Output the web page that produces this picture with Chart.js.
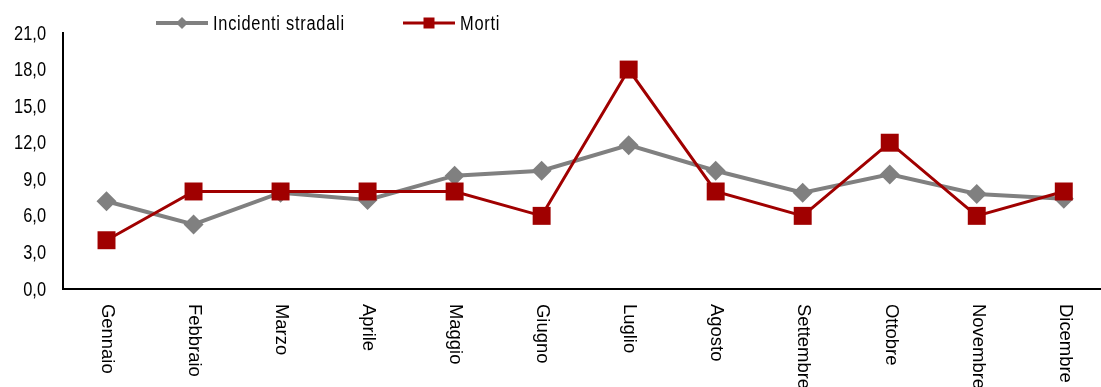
<!DOCTYPE html>
<html>
<head>
<meta charset="utf-8">
<script src="https://cdn.jsdelivr.net/npm/chart.js@4/dist/chart.umd.min.js"></script>
<style>
  html, body { margin: 0; padding: 0; background: #fff; overflow: hidden; }
  canvas { display: block; }
</style>
</head>
<body>
<canvas id="c" width="1120" height="387"></canvas>
<script>
// Monthly shares: road accidents and deaths
const mesi = ['Gennaio', 'Febbraio', 'Marzo', 'Aprile', 'Maggio', 'Giugno',
              'Luglio', 'Agosto', 'Settembre', 'Ottobre', 'Novembre', 'Dicembre'];
const incidenti = [7.2, 5.3, 7.9, 7.3, 9.3, 9.7, 11.8, 9.7, 7.9, 9.4, 7.8, 7.4];
const morti = [4, 8, 8, 8, 8, 6, 18, 8, 6, 12, 6, 8];
const yMin = 0, yMax = 21, yStep = 3;

const FONT = "'Liberation Sans', Arial, sans-serif";
const GRAY = '#808080';
const RED = '#A00000';

// Text drawn with an optional horizontal squeeze, rotated by `angle` around (x, y)
function drawText(ctx, text, x, y, opts) {
  const o = Object.assign({ align: 'left', angle: 0, squeeze: 0.82, size: 20, spacing: 0 }, opts);
  ctx.save();
  ctx.translate(x, y);
  if (o.angle) ctx.rotate(o.angle);
  ctx.scale(o.squeeze, 1);
  ctx.font = o.size + 'px ' + FONT;
  ctx.letterSpacing = o.spacing + 'px';
  ctx.fillStyle = '#000';
  ctx.textAlign = o.align;
  ctx.textBaseline = 'middle';
  ctx.fillText(text, 0, 0);
  ctx.restore();
}

// Value labels on the y axis and month names under the x axis
const axisLabels = {
  id: 'axisLabels',
  afterDraw(chart) {
    const ctx = chart.ctx;
    const xs = chart.scales.x;
    const ys = chart.scales.y;
    ys.ticks.forEach(t => {
      drawText(ctx, t.value.toFixed(1).replace('.', ','), ys.right - 17,
               ys.getPixelForValue(t.value) + 1, { align: 'right' });
    });
    mesi.forEach((m, i) => {
      drawText(ctx, m, xs.getPixelForTick(i) + 1, xs.top + 15,
               { angle: Math.PI / 2, squeeze: 0.97, size: 19 });
    });
  }
};

// Legend with line-and-marker swatches
const topLegend = {
  id: 'topLegend',
  afterDraw(chart) {
    const ctx = chart.ctx;
    const y = 23;
    const items = [
      { x: 156, text: 'Incidenti stradali', ds: chart.data.datasets[1], shape: 'diamond' },
      { x: 403, text: 'Morti', ds: chart.data.datasets[0], shape: 'square' }
    ];
    ctx.save();
    items.forEach(it => {
      ctx.strokeStyle = it.ds.borderColor;
      ctx.fillStyle = it.ds.borderColor;
      ctx.lineWidth = it.ds.borderWidth;
      ctx.beginPath();
      ctx.moveTo(it.x, y);
      ctx.lineTo(it.x + 52, y);
      ctx.stroke();
      const cx = it.x + 26;
      ctx.beginPath();
      if (it.shape === 'diamond') {
        ctx.moveTo(cx - 6, y); ctx.lineTo(cx, y - 6);
        ctx.lineTo(cx + 6, y); ctx.lineTo(cx, y + 6);
        ctx.closePath();
      } else {
        ctx.rect(cx - 5.5, y - 5.5, 11, 11);
      }
      ctx.fill();
      drawText(ctx, it.text, it.x + 57, y + 1, { spacing: 0.9 });
    });
    ctx.restore();
  }
};

new Chart(document.getElementById('c'), {
  type: 'line',
  data: {
    labels: mesi,
    datasets: [
      {
        label: 'Morti',
        data: morti,
        order: 0,
        borderColor: RED,
        backgroundColor: RED,
        borderWidth: 3,
        pointStyle: 'rect',
        pointRadius: 12.7,
        pointBorderWidth: 0,
        pointBackgroundColor: RED,
        tension: 0,
        clip: false
      },
      {
        label: 'Incidenti stradali',
        data: incidenti,
        order: 1,
        borderColor: GRAY,
        backgroundColor: GRAY,
        borderWidth: 4,
        pointStyle: 'rectRot',
        pointRadius: 10,
        pointBorderWidth: 0,
        pointBackgroundColor: GRAY,
        tension: 0,
        clip: false
      }
    ]
  },
  options: {
    responsive: false,
    animation: false,
    devicePixelRatio: 1,
    layout: { padding: { top: 33, left: 0, right: 1, bottom: 0 } },
    plugins: {
      legend: { display: false },
      tooltip: { enabled: false }
    },
    scales: {
      x: {
        type: 'category',
        offset: true,
        grid: { display: false, drawTicks: false },
        border: { display: true, color: '#000', width: 2 },
        ticks: { display: false },
        afterFit(s) { s.height = 98; }
      },
      y: {
        min: yMin,
        max: yMax,
        grid: { display: false, drawTicks: false },
        border: { display: true, color: '#000', width: 2 },
        ticks: { display: false, stepSize: yStep },
        afterFit(s) { s.width = 63; }
      }
    }
  },
  plugins: [axisLabels, topLegend]
});
</script>
</body>
</html>
